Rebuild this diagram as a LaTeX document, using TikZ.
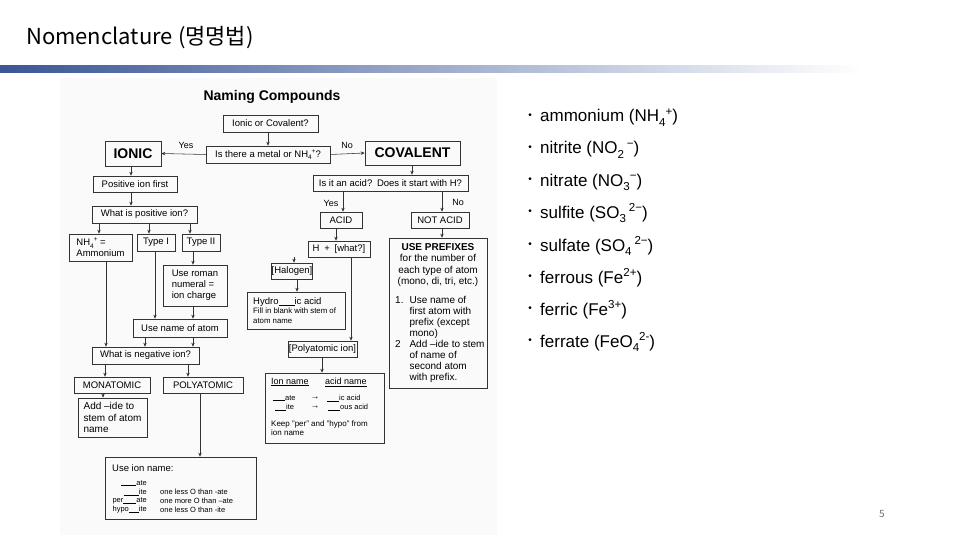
\documentclass[tikz,border=0pt]{standalone}
\usepackage{fontspec}
\usepackage{graphicx}
\setmainfont{Liberation Sans}
\newfontfamily\krfont{Noto Sans CJK KR}
\usetikzlibrary{arrows.meta}
\definecolor{barblue}{RGB}{58,86,150}
\newcommand\chsub[1]{\raisebox{-0.26em}{\scalebox{0.68}{#1}}}
\newcommand\chsup[1]{\raisebox{0.4em}{\scalebox{0.68}{#1}}}
\newcommand\blank[1][14pt]{\rule[-0.5pt]{#1}{0.35pt}}
\tikzset{
  bx/.style={draw=black!80, line width=0.55pt, inner sep=0pt, align=center, font=\fontsize{9.5}{11}\selectfont},
  txt/.style={inner sep=0pt},
  arr/.style={draw=black!80, line width=0.55pt, -{Stealth[length=4pt,width=3.4pt]}},
  lbl/.style={inner sep=0pt, font=\fontsize{9}{10}\selectfont},
  item/.style={inner sep=0pt, anchor=base west, font=\fontsize{17}{19}\selectfont},
  dot/.style={inner sep=0pt, font=\fontsize{10}{12}\selectfont},
  small/.style={inner sep=0pt, font=\fontsize{7.5}{9}\selectfont},
}
\begin{document}
\begin{tikzpicture}[x=1pt,y=-1pt]
\useasboundingbox (0,0) rectangle (960,540);
\fill[white] (0,0) rectangle (960,540);
% header
\node[txt, anchor=west, font=\krfont\fontsize{22}{25}\selectfont] (title) at (26,38) {Nomenclature (명명법)};
\shade[left color=barblue, right color=white] (0,66) rectangle (862,73);
% scanned chart background
\fill[black!2] (60,78) rectangle (497,535);
\node[txt, font=\bfseries\fontsize{14}{16}\selectfont] (naming) at (272,97) {Naming Compounds};

% boxes
\node[bx, minimum width=95pt, minimum height=17pt] (ioc) at (270.5,123.5) {Ionic or Covalent?};
\node[bx, minimum width=124pt, minimum height=17pt] (isthere) at (268,154.5) {Is there a metal or NH\chsub{4}\chsup{+}?};
\node[bx, minimum width=56pt, minimum height=25pt, font=\bfseries\fontsize{14}{16}\selectfont] (ionic) at (133,153.5) {IONIC};
\node[bx, minimum width=95pt, minimum height=24pt, font=\bfseries\fontsize{14}{16}\selectfont] (covalent) at (412.5,153) {COVALENT};
\node[bx, minimum width=84pt, minimum height=16pt] (posfirst) at (135,184) {Positive ion first};
\node[bx, minimum width=105pt, minimum height=17pt] (whatpos) at (144.5,214.5) {What is positive ion?};
\node[bx, minimum width=63pt, minimum height=27pt, align=left] (nh4) at (100.5,247.5) {NH\chsub{4}\chsup{+} =\\Ammonium};
\node[bx, minimum width=38pt, minimum height=17pt] (type1) at (156,242.5) {Type I};
\node[bx, minimum width=38pt, minimum height=17pt] (type2) at (201,242.5) {Type II};
\node[bx, minimum width=64pt, minimum height=41pt, align=left] (roman) at (195,285.5) {Use roman\\numeral =\\ion charge};
\node[bx, minimum width=94pt, minimum height=18pt] (usename) at (180,328) {Use name of atom};
\node[bx, minimum width=107pt, minimum height=17pt] (whatneg) at (145.5,355.5) {What is negative ion?};
\node[bx, minimum width=76pt, minimum height=16pt] (mono) at (112,385) {MONATOMIC};
\node[bx, minimum width=80pt, minimum height=16pt] (poly) at (203,385) {POLYATOMIC};
\node[bx, minimum width=69pt, minimum height=39pt, align=left, font=\fontsize{10}{11.5}\selectfont] (addide) at (112.5,417.5) {Add –ide to\\stem of atom\\name};
\node[bx, minimum width=151pt, minimum height=62pt] (useion) at (180.5,488) {};

\node[bx, minimum width=155pt, minimum height=16pt] (isacid) at (390.5,183) {Is it an acid?\enspace Does it start with H?};
\node[bx, minimum width=42pt, minimum height=16pt] (acid) at (341,220) {ACID};
\node[bx, minimum width=58pt, minimum height=16pt] (notacid) at (440,220) {NOT ACID};
\node[bx, minimum width=62pt, minimum height=16pt] (hplus) at (339,249) {H\enspace+\enspace[what?]};
\node[bx, minimum width=40pt, minimum height=16pt] (halogen) at (292,271) {[Halogen]};
\node[bx, minimum width=98pt, minimum height=37pt] (hydro) at (296,310.5) {};
\node[bx, minimum width=69pt, minimum height=16pt] (polyion) at (322.5,349) {[Polyatomic ion]};
\node[bx, minimum width=119pt, minimum height=70pt] (ionbox) at (324.5,408) {};
\node[bx, minimum width=98pt, minimum height=150pt] (prefix) at (438,313) {};

% labels
\node[lbl] (yes1) at (186,145) {Yes};
\node[lbl] (no1) at (347,145) {No};
\node[lbl] (yes2) at (331,203) {Yes};
\node[lbl] (no2) at (458,202) {No};

% connectors
\draw[arr] (ioc.south -| 268,0) -- (isthere.north -| 268,0);
\draw[arr] (isthere.west) -- (ionic.east);
\draw[arr] (isthere.east) -- (covalent.west);
\draw[arr] (ionic.south -| 131,0) -- (posfirst.north -| 131,0);
\draw[arr] (posfirst.south -| 131,0) -- (whatpos.north -| 131,0);
\draw[arr] (whatpos.south -| 99,0) -- (nh4.north -| 99,0);
\draw[arr] (whatpos.south -| 149,0) -- (type1.north -| 149,0);
\draw[arr] (whatpos.south -| 190,0) -- (type2.north -| 190,0);
\draw[arr] (type2.south -| 193,0) -- (roman.north -| 193,0);
\draw[arr] (type1.south -| 155,0) -- (usename.north -| 155,0);
\draw[arr] (roman.south -| 193,0) -- (usename.north -| 193,0);
\draw[arr] (nh4.south -| 106,0) -- (whatneg.north -| 106,0);
\draw[arr] (usename.south -| 145,0) -- (whatneg.north -| 145,0);
\draw[arr] (usename.south -| 193,0) -- (whatneg.north -| 193,0);
\draw[arr] (whatneg.south -| 105,0) -- (mono.north -| 105,0);
\draw[arr] (whatneg.south -| 188,0) -- (poly.north -| 188,0);
\draw[arr] (mono.south -| 103,0) -- (addide.north -| 103,0);
\draw[arr] (poly.south -| 200,0) -- (useion.north -| 200,0);
\draw[arr] (covalent.south -| 412,0) -- (isacid.north -| 412,0);
\draw[arr] (isacid.south -| 343,0) -- (acid.north -| 343,0);
\draw[arr] (isacid.south -| 442,0) -- (notacid.north -| 442,0);
\draw[arr] (acid.south -| 336,0) -- (hplus.north -| 336,0);
\draw[arr] (notacid.south -| 442,0) -- (prefix.north -| 442,0);
\draw[arr] (hplus.south -| 294,0) -- (halogen.north -| 294,0);
\draw[arr] (hplus.south -| 351,0) -- (polyion.north -| 351,0);
\draw[arr] (halogen.south -| 297,0) -- (hydro.north -| 297,0);
\draw[arr] (polyion.south -| 322,0) -- (ionbox.north -| 322,0);

% hydro box text
\node[txt, anchor=west, font=\fontsize{9.5}{11}\selectfont] (hy1) at (253,302) {Hydro\blank[16pt]ic acid};
\node[txt, anchor=north west, align=left, font=\fontsize{7.8}{9.5}\selectfont] (hy2) at (253,308) {Fill in blank with stem of\\atom name};

% use prefixes text
\node[txt, anchor=north, align=center, font=\fontsize{10}{11.6}\selectfont] (pf1) at (438,243) {\textbf{USE PREFIXES}\\for the number of\\each type of atom\\(mono, di, tri, etc.)};
\node[txt, anchor=north west, font=\fontsize{10}{11}\selectfont] (pf2) at (395,295.5) {\renewcommand\arraystretch{1.0}\begin{tabular}{@{}l@{\hspace{6pt}}l@{}}1. & Use name of\\ & first atom with\\ & prefix (except\\ & mono)\\ 2 & Add –ide to stem\\ & of name of\\ & second atom\\ & with prefix.\end{tabular}};

% ion box text
\node[txt, anchor=west, font=\fontsize{9}{10}\selectfont] (in1) at (271,382) {\underline{Ion name}};
\node[txt, anchor=west, font=\fontsize{9}{10}\selectfont] (in2) at (325,382) {\underline{acid name}};
\node[small, anchor=west] (ia1) at (273,398) {\blank[12pt]ate};
\node[small, font=\fontsize{9}{9}\selectfont] (iar1) at (315,398) {→};
\node[small, anchor=west] (ib1) at (327,398) {\blank[12pt]ic acid};
\node[small, anchor=west] (ia2) at (275,407) {\blank[11pt]ite};
\node[small, font=\fontsize{9}{9}\selectfont] (iar2) at (315,407) {→};
\node[small, anchor=west] (ib2) at (328,407) {\blank[12pt]ous acid};
\node[txt, anchor=north west, align=left, font=\fontsize{8}{9.5}\selectfont] (keep) at (271,420) {Keep "per" and "hypo" from\\ion name};

% use ion name text
\node[txt, anchor=west, font=\fontsize{9.5}{11}\selectfont] (ui0) at (112,468) {Use ion name:};
\node[small, anchor=east] (ua1) at (147,483) {\blank[15pt]ate};
\node[small, anchor=east] (ua2) at (147,492) {\blank[15pt]ite};
\node[small, anchor=east] (ua3) at (147,501) {per\blank[13pt]ate};
\node[small, anchor=east] (ua4) at (147,510) {hypo\blank[10pt]ite};
\node[small, anchor=west] (ub2) at (160,492) {one less O than -ate};
\node[small, anchor=west] (ub3) at (160,501) {one more O than –ate};
\node[small, anchor=west] (ub4) at (160,510) {one less O than -ite};

% right list
\node[dot] (d1) at (530,116) {•};
\node[item] (l1) at (540,122) {ammonium (NH\chsub{4}\chsup{+})};
\node[dot] (d2) at (530,148) {•};
\node[item] (l2) at (540,154) {nitrite (NO\chsub{2}\,\chsup{−})};
\node[dot] (d3) at (530,180) {•};
\node[item] (l3) at (540,186) {nitrate (NO\chsub{3}\chsup{−})};
\node[dot] (d4) at (530,212) {•};
\node[item] (l4) at (540,218) {sulfite (SO\chsub{3}\,\chsup{2−})};
\node[dot] (d5) at (530,245) {•};
\node[item] (l5) at (540,251) {sulfate (SO\chsub{4}\,\chsup{2−})};
\node[dot] (d6) at (530,277) {•};
\node[item] (l6) at (540,283) {ferrous (Fe\chsup{2+})};
\node[dot] (d7) at (530,309) {•};
\node[item] (l7) at (540,315) {ferric (Fe\chsup{3+})};
\node[dot] (d8) at (530,341) {•};
\node[item] (l8) at (540,347) {ferrate (FeO\chsub{4}\chsup{2-})};

% page number
\node[txt, font=\krfont\fontsize{10}{12}\selectfont, text=black!55] (pg) at (882,514) {5};
\end{tikzpicture}
\end{document}
